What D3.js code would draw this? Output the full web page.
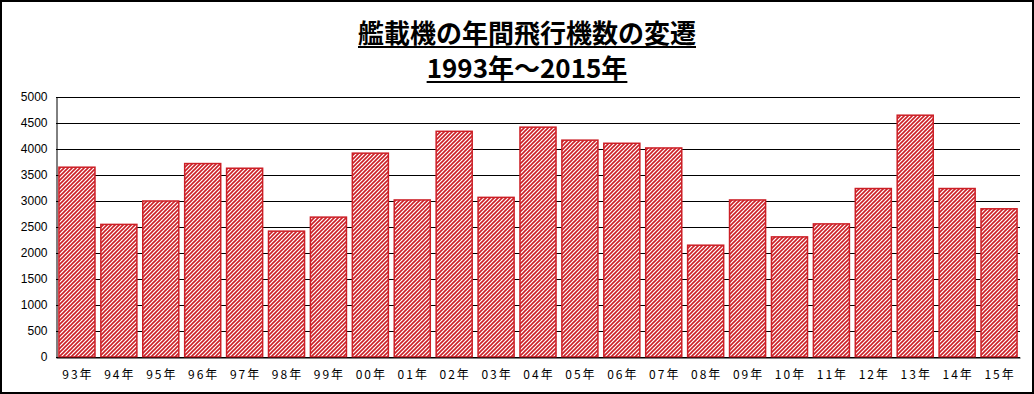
<!DOCTYPE html>
<html><head><meta charset="utf-8">
<script src="https://cdn.jsdelivr.net/npm/d3@7"></script>
<style>
html,body{margin:0;padding:0;background:#fff;}
svg{display:block;}
text{font-family:"Noto Sans CJK JP","Noto Sans",sans-serif;}
</style></head>
<body>
<svg id="chart" width="1034" height="394"></svg>
<script>
const categories = ["93年","94年","95年","96年","97年","98年","99年","00年","01年","02年","03年","04年","05年","06年","07年","08年","09年","10年","11年","12年","13年","14年","15年"];
const values = [3650,2550,3000,3720,3630,2420,2690,3920,3020,4340,3070,4420,4170,4110,4020,2150,3020,2310,2560,3240,4650,3240,2850];
const yTicks = [0,500,1000,1500,2000,2500,3000,3500,4000,4500,5000];
const titleLines = ["艦載機の年間飛行機数の変遷","1993年～2015年"];

const svg = d3.select("#chart");
const W = 1034, H = 394;
const m = {left:56, right:1020, top:97, bottom:357};
const red = "#cc1f26";

const defs = svg.append("defs");
const pat = defs.append("pattern").attr("id","hatch").attr("patternUnits","userSpaceOnUse")
  .attr("width",4).attr("height",4);
pat.append("rect").attr("width",4).attr("height",4).attr("fill","#fff");
pat.append("path").attr("d","M-1,1 l2,-2 M0,4 l4,-4 M3,5 l2,-2")
  .attr("stroke",red).attr("stroke-width",1.6);

svg.append("rect").attr("x",1).attr("y",1).attr("width",W-2).attr("height",H-2)
  .attr("fill","#fff").attr("stroke","#000").attr("stroke-width",2);

const x = d3.scaleBand().domain(categories).range([m.left,m.right]).paddingInner(0.14).paddingOuter(0.07);
const y = d3.scaleLinear().domain([0,5000]).range([m.bottom,m.top]);

// gridlines
svg.append("g").selectAll("line").data(yTicks).join("line")
  .attr("x1",m.left).attr("x2",m.right)
  .attr("y1",d=>Math.round(y(d))+0.5).attr("y2",d=>Math.round(y(d))+0.5)
  .attr("stroke","#000").attr("stroke-width",1);

// bars
svg.append("g").selectAll("rect").data(values).join("rect")
  .attr("x",(d,i)=>x(categories[i]))
  .attr("y",d=>y(d))
  .attr("width",x.bandwidth())
  .attr("height",d=>y(0)-y(d))
  .attr("fill","url(#hatch)")
  .attr("stroke",red).attr("stroke-width",1.5);

// y axis
const yAxis = d3.axisLeft(y).tickValues(yTicks).tickSize(0).tickPadding(9).tickFormat(d3.format("d"));
const gy = svg.append("g").attr("transform",`translate(${m.left+0.5},0)`).call(yAxis);
gy.select(".domain").attr("stroke","#000").attr("stroke-width",1);
gy.selectAll("text").attr("font-size",12).attr("fill","#000")
  .style("font-family","'Liberation Sans',Arial,sans-serif");

// x axis
const xAxis = d3.axisBottom(x).tickSize(0).tickPadding(13);
const gx = svg.append("g").attr("transform",`translate(0,${m.bottom+0.5})`).call(xAxis);
gx.select(".domain").attr("stroke","#000").attr("stroke-width",1);
gx.selectAll("text").attr("font-size",12).attr("fill","#000").attr("letter-spacing","2px").attr("dx",1);

// title
const tY = [43,78];
const tSize = [26,26];
const cx = 527;
titleLines.forEach((t,i)=>{
  const tx = svg.append("text").attr("x",cx).attr("y",tY[i]).attr("text-anchor","middle")
    .attr("font-size",tSize[i]).attr("font-weight","bold").attr("fill","#000").text(t);
  const bb = tx.node().getBBox();
  svg.append("line").attr("x1",bb.x).attr("x2",bb.x+bb.width)
    .attr("y1",tY[i]+4).attr("y2",tY[i]+4).attr("stroke","#000").attr("stroke-width",2);
});
</script>
</body></html>
